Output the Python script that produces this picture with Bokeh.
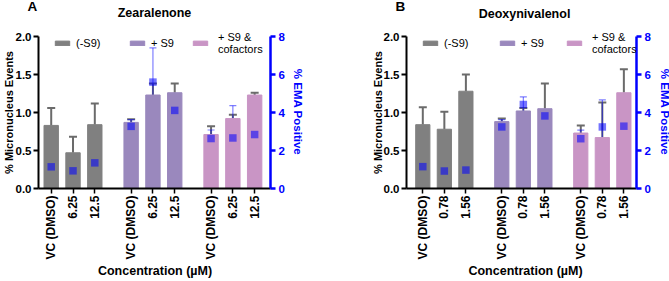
import math
from bokeh.plotting import figure
from bokeh.models import (ColumnDataSource, Range1d, LinearAxis, FixedTicker, Whisker,
                          TeeHead, Label, Legend, LegendItem, NumeralTickFormatter)
from bokeh.layouts import row
from bokeh.embed import file_html
from bokeh.resources import INLINE

FONT = "Liberation Sans"

# ---------------- data ----------------
groups = ["(-S9)", "+ S9", "+ S9 &\ncofactors"]
group_colors = ["#808080", "#9a88bd", "#c995c5"]

zea_doses = ["VC (DMSO)", "6.25", "12.5"]
zea_mn = [[0.83, 0.47, 0.84], [0.87, 1.23, 1.26], [0.71, 0.92, 1.23]]
zea_mn_sd = [[0.23, 0.21, 0.28], [0.04, 0.15, 0.12], [0.11, 0.05, 0.03]]
zea_ema = [[1.14, 0.93, 1.35], [3.27, 5.60, 4.11], [2.63, 2.66, 2.84]]
zea_ema_sd = [[0.44, 0.25, 0.17], [0.35, 1.80, 0.68], [0.45, 1.70, 1.28]]

don_doses = ["VC (DMSO)", "0.78", "1.56"]
don_mn = [[0.84, 0.78, 1.28], [0.88, 1.02, 1.05], [0.73, 0.67, 1.26]]
don_mn_sd = [[0.23, 0.23, 0.22], [0.04, 0.04, 0.33], [0.10, 0.46, 0.31]]
don_ema = [[1.15, 0.92, 0.97], [3.24, 4.42, 3.82], [2.62, 3.24, 3.28]]
don_ema_sd = [[0.44, 0.15, 0.08], [0.38, 0.40, 0.16], [0.45, 1.42, 1.63]]

mn_ticks = [0, 0.5, 1.0, 1.5, 2.0]
ema_ticks = [0, 2, 4, 6, 8]
GROUP_GAP = 2 / 3  # extra category slots between groups

H = 281
TOP = 24          # frame top (extended above the 2.0 tick so the legend is not clipped)
AX_TOP = 36       # pixel row of the 2.0 / 8 ticks
BOTTOM = 188      # pixel row of the 0 ticks
Y_END = 2.0 * (BOTTOM - TOP) / (BOTTOM - AX_TOP)


def make_panel(letter, title, doses, mn, mn_sd, ema, ema_sd, width, bl, br,
               x_start, x_end, lay):
    p = figure(width=width, height=H, output_backend="svg", toolbar_location=None,
               x_range=Range1d(x_start, x_end), y_range=Range1d(0, Y_END),
               min_border_left=bl, min_border_right=br, min_border_top=TOP,
               min_border_bottom=H - BOTTOM)
    p.extra_y_ranges = {"ema": Range1d(0, 8 * Y_END / 2)}
    p.outline_line_color = None
    p.xgrid.visible = False
    p.ygrid.visible = False
    p.background_fill_color = None
    p.border_fill_color = None

    n = len(doses)
    xs_all, labels_all = [], []
    legend_items = []
    for g, gname in enumerate(groups):
        xs = [g * (n + GROUP_GAP) + i for i in range(n)]
        xs_all += xs
        labels_all += doses
        src = ColumnDataSource(dict(
            x=xs, top=mn[g], hi=[m + s for m, s in zip(mn[g], mn_sd[g])],
            ema=ema[g],
            elo=[m - s for m, s in zip(ema[g], ema_sd[g])],
            ehi=[m + s for m, s in zip(ema[g], ema_sd[g])]))
        r = p.vbar(x="x", top="top", width=0.66, source=src,
                   fill_color=group_colors[g], line_color=group_colors[g])
        legend_items.append((gname, r))
        p.add_layout(Whisker(source=src, base="x", upper="hi", lower="top",
                             dimension="height", line_color="#6b6b6b", line_width=2,
                             upper_head=TeeHead(size=8, line_color="#6b6b6b", line_width=2),
                             lower_head=None))
        p.add_layout(Whisker(source=src, base="x", upper="ehi", lower="elo",
                             y_range_name="ema", dimension="height",
                             line_color="blue", line_alpha=0.5, line_width=1.2,
                             upper_head=TeeHead(size=7, line_color="blue", line_alpha=0.5, line_width=1.2),
                             lower_head=TeeHead(size=7, line_color="blue", line_alpha=0.5, line_width=1.2)))
        sr = p.scatter(x="x", y="ema", source=src, y_range_name="ema", marker="square",
                       size=7.5, fill_color="blue", fill_alpha=0.55, line_color=None)
        sr.level = "overlay"

    # axes
    xa = p.xaxis[0]
    xa.ticker = FixedTicker(ticks=xs_all)
    xa.major_label_overrides = {x: l for x, l in zip(xs_all, labels_all)}
    xa.major_label_orientation = math.pi / 2
    xa.minor_tick_line_color = None
    xa.major_tick_in = 0
    xa.major_tick_out = 5
    xa.major_tick_line_width = 1.5
    xa.axis_line_width = 2
    xa.major_label_standoff = 2
    xa.major_label_text_font = FONT
    xa.major_label_text_font_style = "bold"
    xa.major_label_text_font_size = "12px"
    xa.major_label_text_color = "black"

    ya = p.yaxis[0]
    ya.bounds = (0, 2)
    ya.ticker = FixedTicker(ticks=mn_ticks)
    ya.formatter = NumeralTickFormatter(format="0.0")
    ya.minor_tick_line_color = None
    ya.major_tick_in = 0
    ya.major_tick_out = 5
    ya.major_tick_line_width = 2
    ya.axis_line_width = 2
    ya.major_label_standoff = 2
    ya.major_label_text_font = FONT
    ya.major_label_text_font_style = "bold"
    ya.major_label_text_font_size = "11.5px"
    ya.major_label_text_color = "black"

    ra = LinearAxis(y_range_name="ema", ticker=FixedTicker(ticks=ema_ticks), bounds=(0, 8))
    ra.minor_tick_line_color = None
    ra.major_tick_in = 0
    ra.major_tick_out = 5
    ra.major_tick_line_width = 2.5
    ra.major_tick_line_color = "blue"
    ra.axis_line_color = "blue"
    ra.axis_line_width = 2.5
    ra.major_label_standoff = 3
    ra.major_label_text_font = FONT
    ra.major_label_text_font_style = "bold"
    ra.major_label_text_font_size = "11.5px"
    ra.major_label_text_color = "blue"
    p.add_layout(ra, "right")

    # legends (one per item so each can be placed like the original)
    for (gname, r), lx in zip(legend_items, lay["legend_x"]):
        multi = "\n" in gname
        lg = Legend(items=[LegendItem(label=gname, renderers=[r])],
                    location=(lx, lay["legend_y2"] if multi else lay["legend_y"]),
                    orientation="horizontal", border_line_color=None,
                    background_fill_alpha=0, padding=0, margin=0, spacing=0,
                    glyph_width=18, glyph_height=6, label_height=10,
                    label_standoff=9 if multi else 5, label_text_font=FONT,
                    label_text_font_size="11px", label_text_color="black",
                    label_text_line_height=1.15)
        p.add_layout(lg, "center")

    def lab(side, text, x, y, size, color="black", angle=0, align="center"):
        p.add_layout(Label(text=text, x=x, y=y, x_units="canvas", y_units="canvas",
                           text_font=FONT, text_font_style="bold",
                           text_font_size=size, text_color=color, angle=angle,
                           text_align=align, text_baseline="middle"), side)

    lab("above", title, lay["title_x"], lay["title_y"], "12.5px")
    lab("below", "Concentration (µM)", lay["xlab_x"], 270, "12.5px")
    side = lay["side"]
    lab(side, letter, lay["letter_x"], 5.5, "13.5px", align="left")
    lab(side, "% Micronucleus Events", lay["ylab_x"], 112, "11px", angle=math.pi / 2)
    lab(side, "% EMA Positive", lay["rlab_x"], 111.5, "11.5px", color="blue",
        angle=-math.pi / 2)
    return p


pa = make_panel("A", "Zearalenone", zea_doses, zea_mn, zea_mn_sd, zea_ema, zea_ema_sd,
                width=335, bl=38, br=65, x_start=-0.583, x_end=10.06,
                lay=dict(legend_x=[15, 90, 153], legend_y=139, legend_y2=133,
                         side="right", letter_x=27, title_x=154, title_y=12.8,
                         ylab_x=8, rlab_x=297.5, xlab_x=154.5))
pb = make_panel("B", "Deoxynivalenol", don_doses, don_mn, don_mn_sd, don_ema, don_ema_sd,
                width=334, bl=71, br=33, x_start=-0.757, x_end=9.92,
                lay=dict(legend_x=[15, 92, 159], legend_y=139, legend_y2=133,
                         side="left", letter_x=60, title_x=189, title_y=13.5,
                         ylab_x=42.5, rlab_x=329, xlab_x=190))

layout = row(pa, pb)
open("out.html", "w").write(file_html(layout, INLINE))
